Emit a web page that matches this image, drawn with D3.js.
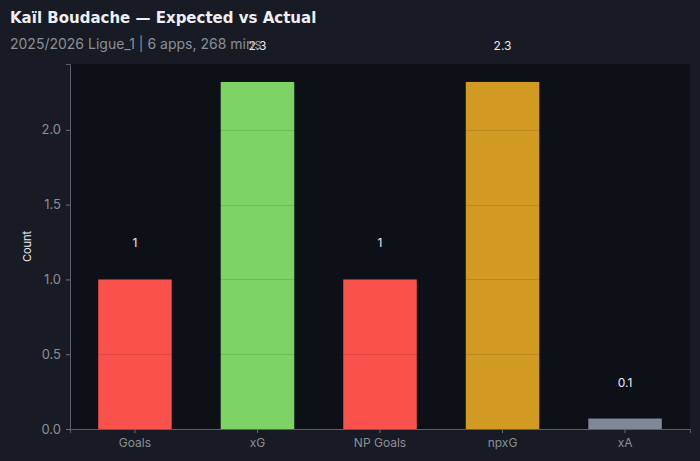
<!DOCTYPE html>
<html><head><meta charset="utf-8">
<script src="https://cdn.jsdelivr.net/npm/d3@7"></script>
<style>
html,body{margin:0;padding:0;background:#181b23;}
svg{display:block;}
</style></head>
<body>
<script>
const categories = ["Goals", "xG", "NP Goals", "npxG", "xA"];
const values = [1, 2.32, 1, 2.32, 0.07];
const valueLabels = ["1", "2.3", "1", "2.3", "0.1"];
const colors = ["#fa514c", "#7dd366", "#fa514c", "#d19a23", "#7f8894"];
const yTicks = [0, 0.5, 1.0, 1.5, 2.0];
const titleText = "Kaïl Boudache — Expected vs Actual";
const subtitleText = "2025/2026 Ligue_1 | 6 apps, 268 mins";

const W = 700, H = 461;
const m = {left: 70, right: 10, top: 64, bottom: 32};
const svg = d3.select("body").append("svg").attr("width", W).attr("height", H);
svg.append("rect").attr("width", W).attr("height", H).attr("fill", "#181b23");

const x = d3.scaleBand().domain(categories).range([m.left, W - m.right]).paddingInner(0.4).paddingOuter(0.23);
const y = d3.scaleLinear().domain([0, 2.44]).range([H - m.bottom, m.top]);

svg.append("rect").attr("x", m.left).attr("y", m.top)
  .attr("width", W - m.right - m.left).attr("height", H - m.bottom - m.top).attr("fill", "#0d1017");

svg.selectAll("rect.bar").data(values).enter().append("rect").attr("class", "bar")
  .attr("x", (d, i) => x(categories[i])).attr("width", x.bandwidth())
  .attr("y", d => y(d)).attr("height", d => y(0) - y(d))
  .attr("fill", (d, i) => colors[i]);

// grid lines over bars
svg.append("g").selectAll("line").data(yTicks.filter(t => t > 0)).enter().append("line")
  .attr("x1", m.left).attr("x2", W - m.right)
  .attr("y1", d => Math.round(y(d)) + 0.5).attr("y2", d => Math.round(y(d)) + 0.5)
  .attr("stroke", "#000").attr("stroke-opacity", 0.1).attr("stroke-width", 1);

const yAxis = svg.append("g").attr("transform", `translate(${m.left},0)`)
  .call(d3.axisLeft(y).tickValues(yTicks).tickFormat(d3.format(".1f")).tickSize(4).tickPadding(5));
const xAxis = svg.append("g").attr("transform", `translate(0,${H - m.bottom})`)
  .call(d3.axisBottom(x).tickSize(4).tickPadding(5));
[yAxis, xAxis].forEach(g => {
  g.selectAll("path.domain").attr("stroke", "#5a5f69");
  g.selectAll(".tick line").attr("stroke", "#6a6f79");
  g.selectAll("text").attr("fill", "#8a8f98").attr("font-family", "Inter, 'Noto Sans', sans-serif");
});
yAxis.selectAll("text").attr("font-size", 13);
xAxis.selectAll("text").attr("font-size", 12);

svg.append("text").attr("transform", `translate(31,${(m.top + H - m.bottom) / 2}) rotate(-90)`)
  .attr("text-anchor", "middle").attr("fill", "#e8eaf0").attr("font-size", 11)
  .attr("font-family", "Inter, 'Noto Sans', sans-serif").text("Count");

svg.selectAll("text.val").data(values).enter().append("text").attr("class", "val")
  .attr("x", (d, i) => x(categories[i]) + x.bandwidth() / 2)
  .attr("y", d => y(d + 0.25)).attr("dy", "0.45em")
  .attr("text-anchor", "middle").attr("fill", "#e8eaf0").attr("font-size", 12)
  .attr("font-family", "Inter, 'Noto Sans', sans-serif")
  .text((d, i) => valueLabels[i]);

svg.append("text").attr("x", 10).attr("y", 23).attr("fill", "#eceef3")
  .attr("font-size", 15).attr("font-weight", "bold").attr("font-family", "'DejaVu Sans', sans-serif")
  .text(titleText);
svg.append("text").attr("x", 10).attr("y", 49).attr("fill", "#8a8f98")
  .attr("font-size", 14).attr("font-family", "Inter, 'Noto Sans', sans-serif")
  .text(subtitleText);
</script>
</body></html>
